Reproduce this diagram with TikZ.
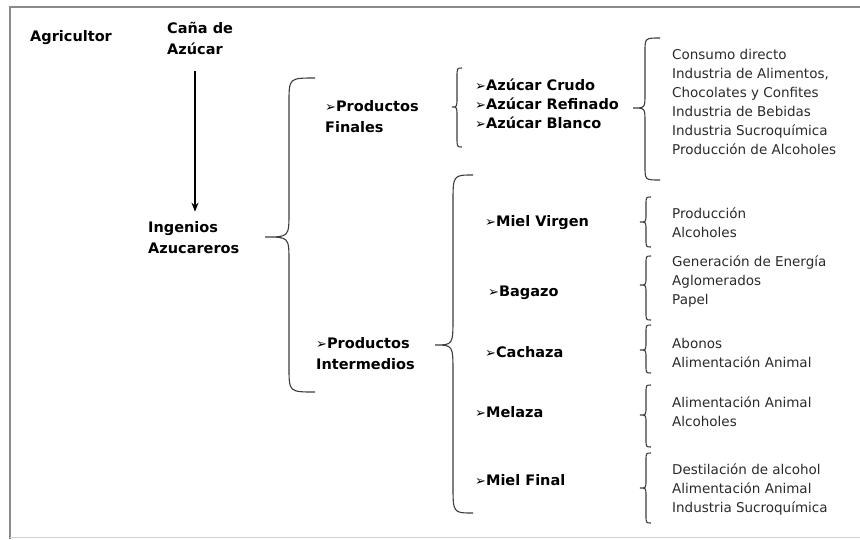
\documentclass[tikz,border=0pt]{standalone}
\usepackage{fontspec}
\setmainfont{DejaVu Sans}
\usetikzlibrary{arrows.meta}
\definecolor{framegray}{HTML}{8A8A8A}
\definecolor{bracegray}{HTML}{3C3C3C}
\definecolor{txtgray}{HTML}{2A2A2A}
\newcommand\curlyb[7]{%
  \draw[bracestyle] (#3,#4) .. controls (#2,#4) .. (#2,{#4+#7}) -- (#2,{#5-#7})
    .. controls (#2,#5) .. (#1,#5) .. controls (#2,#5) .. (#2,{#5+#7})
    -- (#2,{#6-#7}) .. controls (#2,#6) .. (#3,#6);}
\newcommand\bul{{\fontsize{13}{10}\selectfont ➢}}
\begin{document}
\begin{tikzpicture}[x=1pt,y=-1pt,
  bracestyle/.style={draw=bracegray,line width=1.1pt},
  lbl/.style={anchor=west,inner sep=0pt,align=left,font=\bfseries\fontsize{14.5}{21}\selectfont},
  uses/.style={anchor=west,inner sep=0pt,align=left,text=txtgray,font=\fontsize{13.5}{19}\selectfont},
  arr/.style={-{Stealth[length=9pt,width=7pt]},line width=1.3pt}]
\useasboundingbox (0,0) rectangle (860,539);
% frame
\draw[framegray,line width=2pt] (10,539) -- (10,7) -- (860,7);
\draw[framegray!40,line width=0.8pt] (10,537.5) -- (860,537.5);
% left column
\node[lbl] (agri) at (30,38) {Agricultor};
\node[lbl] (cana) at (167,38) {Caña de\\Azúcar};
\node[lbl] (ing) at (148,238) {Ingenios\\Azucareros};
\draw[arr] ([yshift=-17pt]cana.south -| 195,0) -- ([yshift=10pt]ing.north -| 195,0);
% main brace
\curlyb{265}{289}{315}{78}{237}{392}{25}
\node[lbl] (pf) at (325,117) {\bul Productos\\Finales};
\node[lbl] (pi) at (316,354) {\bul Productos\\Intermedios};
% finales
\curlyb{452}{457}{462}{68}{107}{147}{10}
\node[lbl,font=\bfseries\fontsize{14.5}{19}\selectfont] (az) at (475,104) {\bul Azúcar Crudo\\\bul Azúcar Refinado\\\bul Azúcar Blanco};
\curlyb{633}{645}{660}{38}{108}{180}{14}
\node[uses] (u1) at (672,102) {Consumo directo\\Industria de Alimentos,\\Chocolates y Confites\\Industria de Bebidas\\Industria Sucroquímica\\Producción de Alcoholes};
% intermedios
\curlyb{435}{453}{473}{175}{345}{513}{28}
\node[lbl] (mv) at (485,223) {\bul Miel Virgen};
\node[lbl] (bg) at (488,293) {\bul Bagazo};
\node[lbl] (cc) at (485,352) {\bul Cachaza};
\node[lbl] (ml) at (475,412) {\bul Melaza};
\node[lbl] (mf) at (475,480) {\bul Miel Final};
\curlyb{640}{646}{651}{197}{222}{247}{8}
\curlyb{640}{646}{651}{256}{285}{320}{8}
\curlyb{640}{646}{651}{325}{350}{373}{8}
\curlyb{640}{646}{651}{385}{415}{447}{8}
\curlyb{640}{646}{651}{453}{488}{523}{8}
\node[uses] (u2) at (672,222.5) {Producción\\Alcoholes};
\node[uses] (u3) at (672,281) {Generación de Energía\\Aglomerados\\Papel};
\node[uses] (u4) at (672,352.5) {Abonos\\Alimentación Animal};
\node[uses] (u5) at (672,411.5) {Alimentación Animal\\Alcoholes};
\node[uses] (u6) at (672,489.5) {Destilación de alcohol\\Alimentación Animal\\Industria Sucroquímica};
\end{tikzpicture}
\end{document}
